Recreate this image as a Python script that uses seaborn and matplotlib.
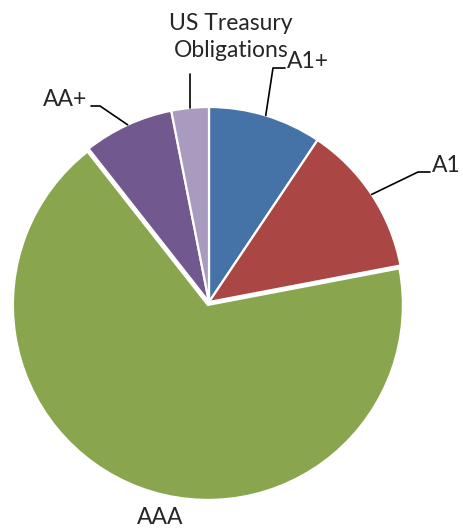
import numpy as np
import matplotlib
matplotlib.use("Agg")
import matplotlib.pyplot as plt
import seaborn as sns

labels = ["A1+", "A1", "AAA", "AA+", "US Treasury\nObligations"]
shares = [9.4, 12.6, 67.4, 7.5, 3.1]
colors = ["#4572A7", "#AA4643", "#89A54E", "#71588F", "#A99BC0"]
explode = [0, 0, 0.016, 0, 0]

sns.set_style("white")
plt.rcParams["font.family"] = ["Lato", "DejaVu Sans"]

W, H = 463, 529
fig = plt.figure(figsize=(W / 100, H / 100), dpi=100)
ax = fig.add_axes([0, 0, 1, 1])

# pixel helpers (pie radius = 195 px, centre at 209, 302)
R, CX, CY = 195.0, 209.0, 302.0
def px(x, y):
    return (x - CX) / R, (CY - y) / R

wedges, _ = ax.pie(shares, colors=colors, explode=explode, startangle=90,
                   counterclock=False, radius=1.0,
                   wedgeprops=dict(edgecolor="white", linewidth=1.6))

ax.set_xlim(-CX / R, (W - CX) / R)
ax.set_ylim(-(H - CY) / R, CY / R)
ax.set_aspect("equal")
ax.axis("off")

def edge_point(w):
    a = np.deg2rad((w.theta1 + w.theta2) / 2)
    return np.cos(a) * w.r, np.sin(a) * w.r

fs = 16.5
# label placement: (elbow, end of horizontal tick, text pos, ha)
layout = {
    "A1+": [(273, 68), (285, 68), (287, 62), "left"],
    "A1": [(418, 172), (430, 172), (432, 166), "left"],
    "AA+": [(100, 106), (91, 106), (87, 99), "right"],
}
for w, lab in zip(wedges, labels):
    if lab in layout:
        elbow, tick, tpos, ha = layout[lab]
        x0, y0 = edge_point(w)
        x1, y1 = px(*elbow)
        x2, y2 = px(*tick)
        ax.plot([x0, x1, x2], [y0, y1, y2], color="black", lw=1.2)
        ax.text(*px(*tpos), lab, ha=ha, va="center", fontsize=fs)
    elif lab.startswith("US"):
        x0, y0 = edge_point(w)
        ax.plot([x0, x0], [y0, px(0, 74)[1]], color="black", lw=1.2)
        ax.text(*px(231, 37), lab, ha="center", va="center", fontsize=fs,
                linespacing=1.4)
    else:
        ax.text(*px(160, 518), lab, ha="center", va="center", fontsize=fs)

fig.savefig("out.png", dpi=100)
